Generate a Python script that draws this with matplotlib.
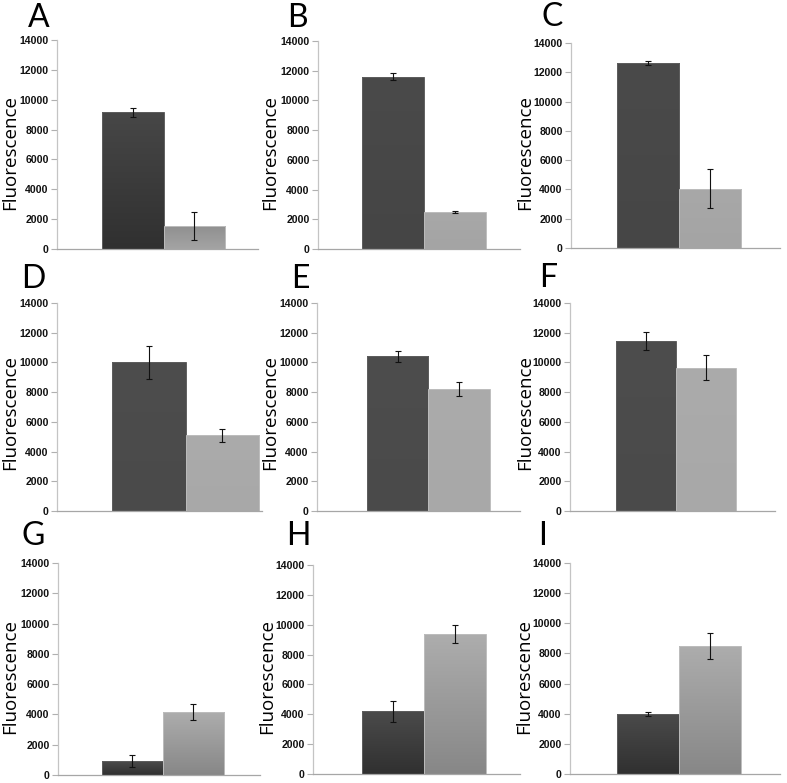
import matplotlib.pyplot as plt
import numpy as np
from matplotlib.colors import LinearSegmentedColormap

# values (two bars each, dark then light)
panel_labels = ['A', 'B', 'C', 'D', 'E', 'F', 'G', 'H', 'I']
dark_vals = [9150, 11600, 12650, 10000, 10400, 11450, 900, 4200, 4000]
dark_err = [300, 250, 150, 1100, 350, 600, 400, 700, 130]
light_vals = [1540, 2500, 4050, 5100, 8200, 9650, 4150, 9350, 8500]
light_err = [940, 50, 1330, 450, 450, 830, 550, 600, 850]
y_ticks = [0, 2000, 4000, 6000, 8000, 10000, 12000, 14000]
y_title = 'Fluorescence'

W, H = 787, 783
fig = plt.figure(figsize=(W / 100, H / 100), dpi=100)

# axes boxes in pixels: left, right, top (14000), bottom (0)
boxes = [(57, 258, 40, 249), (318, 520, 41, 249), (571, 780, 43, 248),
         (57, 262, 303, 511), (317, 520, 303, 511), (570, 775, 303, 511),
         (58, 260, 563, 775), (313, 520, 565, 774), (570, 780, 563, 774)]
xlims = [(-1.23, 2.03), (-1.22, 2.06), (-1.24, 2.13),
         (-1.25, 1.54), (-1.31, 1.99), (-1.27, 2.15),
         (-1.22, 2.09), (-1.29, 2.05), (-1.26, 2.13)]
# panel letter: centre x, baseline y
letter_pos = [(39, 27), (297, 27), (552, 26),
              (33, 288), (300, 288), (548, 287),
              (33, 545), (298, 545), (543, 545)]
# y title centre
ytitle_pos = [(10, 152), (270, 153), (525, 153),
              (10, 413), (270, 412), (525, 412),
              (10, 677), (267, 676), (524, 676)]

# (top, bottom) colours of each bar
dark_cols = [('#474747', '#303030'), ('#4a4a4a', '#454545'), ('#4a4a4a', '#464646'),
             ('#4d4d4d', '#4a4a4a'), ('#4d4d4d', '#4a4a4a'), ('#4d4d4d', '#4a4a4a'),
             ('#4b4b4b', '#303030'), ('#4b4b4b', '#303030'), ('#4b4b4b', '#303030')]
light_cols = [('#909090', '#a4a4a4'), ('#a8a8a8', '#a4a4a4'), ('#a8a8a8', '#a4a4a4'),
              ('#ababab', '#a8a8a8'), ('#ababab', '#a8a8a8'), ('#ababab', '#a8a8a8'),
              ('#adadad', '#878787'), ('#adadad', '#878787'), ('#adadad', '#878787')]


def grad_bar(ax, x, h, err, top, bot, edge):
    bar = ax.bar(x, h, width=1, color='none', edgecolor=edge, lw=0.7, zorder=2)[0]
    cmap = LinearSegmentedColormap.from_list('g', [bot, top])
    grad = np.linspace(0, 1, 256).reshape(-1, 1)
    im = ax.imshow(grad, cmap=cmap, origin='lower', aspect='auto', zorder=1,
                   extent=[bar.get_x(), bar.get_x() + bar.get_width(), 0, bar.get_height()])
    im.set_clip_path(bar)
    ax.errorbar(x, h, yerr=err, fmt='none', ecolor='#111111', elinewidth=0.8,
                capsize=2, capthick=0.8, zorder=3)


for i in range(9):
    l, r, t, b = boxes[i]
    ax = fig.add_axes([l / W, 1 - b / H, (r - l) / W, (b - t) / H])
    grad_bar(ax, 0, dark_vals[i], dark_err[i], dark_cols[i][0], dark_cols[i][1], '#5e5e5e')
    grad_bar(ax, 1, light_vals[i], light_err[i], light_cols[i][0], light_cols[i][1], '#bdbdbd')
    ax.set_xlim(*xlims[i])
    ax.set_ylim(0, 14000)
    ax.set_yticks(y_ticks)
    ax.set_yticklabels([str(v) for v in y_ticks],
                       fontdict={'family': ['Liberation Sans', 'DejaVu Sans'],
                                 'weight': 'bold', 'size': 7.6})
    ax.set_xticks([])
    for s in ['top', 'right']:
        ax.spines[s].set_visible(False)
    ax.spines['left'].set_color('#c4c4c4')
    ax.spines['bottom'].set_color('#a6a6a6')
    ax.spines['left'].set_linewidth(0.9)
    ax.spines['bottom'].set_linewidth(0.9)
    ax.tick_params(axis='y', length=4, width=0.8, color='#b0b0b0', pad=2, labelcolor='#111111')

    tx, ty = ytitle_pos[i]
    fig.text(tx / W, 1 - ty / H, y_title, rotation=90, ha='center', va='center',
             family=['Open Sans', 'DejaVu Sans'], fontsize=13.5)
    lx, ly = letter_pos[i]
    fig.text(lx / W, 1 - ly / H, panel_labels[i], ha='center', va='baseline',
             family=['Lato', 'DejaVu Sans'], fontsize=23)

fig.savefig('out.png', dpi=100)
